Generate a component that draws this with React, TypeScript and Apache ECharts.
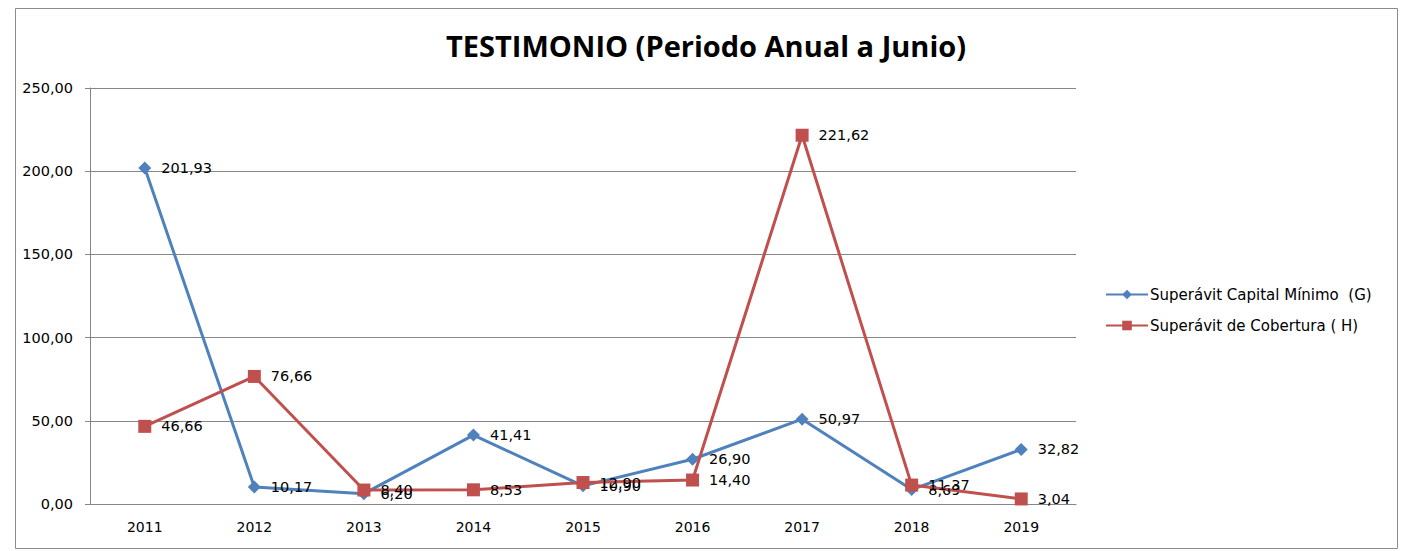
import React, { useEffect, useRef } from "react";
import * as echarts from "echarts";

const categories = ["2011", "2012", "2013", "2014", "2015", "2016", "2017", "2018", "2019"];
const capitalMinimo = [201.93, 10.17, 6.2, 41.41, 10.9, 26.9, 50.97, 8.69, 32.82];
const cobertura = [46.66, 76.66, 8.4, 8.53, 12.9, 14.4, 221.62, 11.37, 3.04];
const yTicks = { min: 0, max: 250, interval: 50 };

const fmt = (v: number) => v.toFixed(2).replace(".", ",");
const FONT = "DejaVu Sans";

export default function App() {
  const ref = useRef<HTMLDivElement>(null);
  useEffect(() => {
    document.body.style.margin = "0";
    const chart = echarts.init(ref.current!, null, { renderer: "svg" });
    const labelCfg = {
      show: true,
      position: "right" as const,
      distance: 10,
      color: "#000",
      fontSize: 14.5,
      fontFamily: FONT,
      formatter: (p: any) => fmt(p.value),
    };
    chart.setOption({
      animation: false,
      backgroundColor: "#fff",
      title: {
        text: "TESTIMONIO (Periodo Anual a Junio)",
        left: 701,
        textAlign: "center",
        top: 26,
        textStyle: { fontSize: 29, fontWeight: "bold", color: "#000", fontFamily: "Open Sans" },
      },
      graphic: [
        {
          type: "rect",
          shape: { x: 15.5, y: 8.5, width: 1382, height: 540 },
          style: { fill: "none", stroke: "#8c8c8c", lineWidth: 1 },
          silent: true,
        },
      ],
      legend: {
        orient: "vertical",
        left: 1100,
        top: 282,
        itemGap: 16,
        itemWidth: 42,
        itemHeight: 12,
        textStyle: { fontSize: 15, color: "#000", fontFamily: FONT, padding: [0, 0, 0, -3] },
        data: ["Superávit Capital Mínimo  (G)", "Superávit de Cobertura ( H)"],
      },
      grid: { left: 90, right: 329, top: 88, bottom: 47 },
      xAxis: {
        type: "category",
        data: categories,
        boundaryGap: true,
        axisLine: { lineStyle: { color: "#868686" } },
        axisTick: { show: false },
        axisLabel: { color: "#000", fontSize: 14, fontFamily: FONT, margin: 16 },
      },
      yAxis: {
        type: "value",
        min: yTicks.min,
        max: yTicks.max,
        interval: yTicks.interval,
        axisLine: { show: true, lineStyle: { color: "#868686" } },
        axisTick: { show: true, length: 5, lineStyle: { color: "#868686" } },
        splitLine: { lineStyle: { color: "#868686" } },
        axisLabel: {
          color: "#000",
          fontSize: 14.5,
          fontFamily: FONT,
          margin: 17,
          formatter: (v: number) => fmt(v),
        },
      },
      series: [
        {
          name: "Superávit Capital Mínimo  (G)",
          type: "line",
          data: capitalMinimo,
          color: "#4F81BD",
          lineStyle: { width: 3 },
          symbol: "diamond",
          symbolSize: 13,
          label: labelCfg,
          z: 2,
        },
        {
          name: "Superávit de Cobertura ( H)",
          type: "line",
          data: cobertura,
          color: "#C0504D",
          lineStyle: { width: 3 },
          symbol: "rect",
          symbolSize: 13,
          label: labelCfg,
          z: 3,
        },
      ],
    });
    return () => chart.dispose();
  }, []);
  return <div ref={ref} style={{ width: 1405, height: 551 }} />;
}
